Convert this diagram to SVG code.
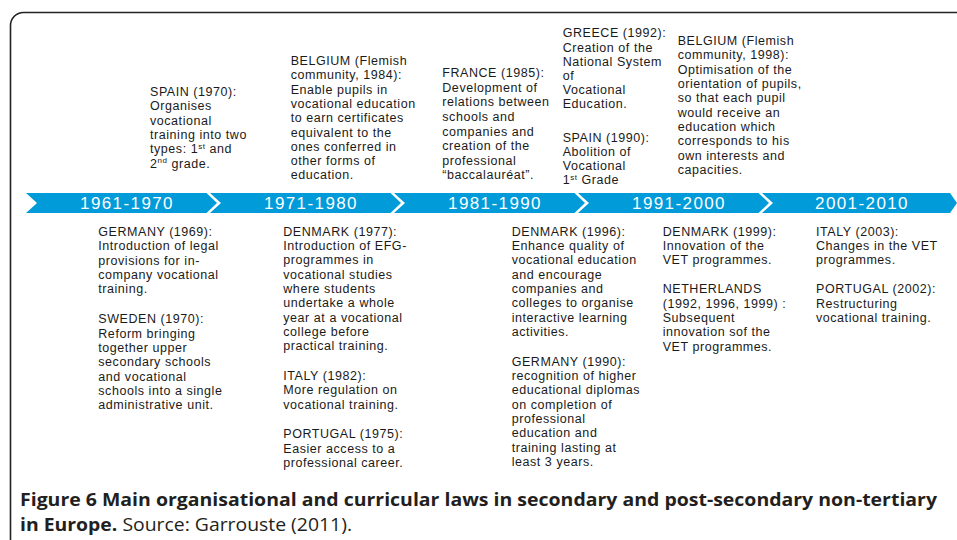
<svg xmlns="http://www.w3.org/2000/svg" width="957" height="540" viewBox="0 0 957 540">
<style>
.t{font-family:"Liberation Sans",Arial,sans-serif;font-size:12.5px;letter-spacing:0.55px;fill:#1a1a1a}
.yr{font-family:"Liberation Sans",Arial,sans-serif;font-size:17px;letter-spacing:1.4px;fill:#ffffff;text-anchor:middle}
.band{fill:#009bd8}
.cap{font-family:"Open Sans","Liberation Sans",sans-serif;font-size:18px;fill:#231f20}
.sup{font-size:8px}
</style>
<rect x="10.5" y="12.5" width="1000" height="600" rx="13" ry="13" fill="#ffffff" stroke="#222222" stroke-width="1.6"/>

<g id="timeline">
  <g id="seg-1961-1970">
    <polygon class="band" points="26,193 206.5,193 217,203 206.5,213 26,213 37,203"/>
    <text class="yr" x="127" y="208.5">1961-1970</text>
  </g>
  <g id="seg-1971-1980">
    <polygon class="band" points="210,193 390.5,193 401,203 390.5,213 210,213 221,203"/>
    <text class="yr" x="311" y="208.5">1971-1980</text>
  </g>
  <g id="seg-1981-1990">
    <polygon class="band" points="394,193 574.5,193 585,203 574.5,213 394,213 405,203"/>
    <text class="yr" x="495" y="208.5">1981-1990</text>
  </g>
  <g id="seg-1991-2000">
    <polygon class="band" points="578,193 758.5,193 769,203 758.5,213 578,213 589,203"/>
    <text class="yr" x="679" y="208.5">1991-2000</text>
  </g>
  <g id="seg-2001-2010">
    <polygon class="band" points="762,193 950,193 957,203 950,213 762,213 773,203"/>
    <text class="yr" x="862" y="208.5">2001-2010</text>
  </g>
</g>

<g id="spain-1970">
  <text class="t">
    <tspan x="150" y="96">SPAIN (1970):</tspan>
    <tspan x="150" y="110.3">Organises</tspan>
    <tspan x="150" y="124.7">vocational</tspan>
    <tspan x="150" y="139">training into two</tspan>
    <tspan x="150" y="153.3">types: 1<tspan class="sup" dy="-4.5">st</tspan><tspan dy="4.5"> and</tspan></tspan>
    <tspan x="150" y="167.7">2<tspan class="sup" dy="-4.5">nd</tspan><tspan dy="4.5"> grade.</tspan></tspan>
  </text>
</g>

<g id="belgium-1984">
  <text class="t">
    <tspan x="290.7" y="65">BELGIUM (Flemish</tspan>
    <tspan x="290.7" y="79.3">community, 1984):</tspan>
    <tspan x="290.7" y="93.6">Enable pupils in</tspan>
    <tspan x="290.7" y="107.9">vocational education</tspan>
    <tspan x="290.7" y="122.2">to earn certificates</tspan>
    <tspan x="290.7" y="136.5">equivalent to the</tspan>
    <tspan x="290.7" y="150.7">ones conferred in</tspan>
    <tspan x="290.7" y="165">other forms of</tspan>
    <tspan x="290.7" y="179.3">education.</tspan>
  </text>
</g>

<g id="france-1985">
  <text class="t">
    <tspan x="442.3" y="77.3">FRANCE (1985):</tspan>
    <tspan x="442.3" y="91.9">Development of</tspan>
    <tspan x="442.3" y="106.4">relations between</tspan>
    <tspan x="442.3" y="121">schools and</tspan>
    <tspan x="442.3" y="135.6">companies and</tspan>
    <tspan x="442.3" y="150.2">creation of the</tspan>
    <tspan x="442.3" y="164.7">professional</tspan>
    <tspan x="442.3" y="179.3">“baccalauréat”.</tspan>
  </text>
</g>

<g id="greece-spain-1990">
  <text class="t">
    <tspan x="562.7" y="37.3">GREECE (1992):</tspan>
    <tspan x="562.7" y="51.7">Creation of the</tspan>
    <tspan x="562.7" y="65.7">National System</tspan>
    <tspan x="562.7" y="80">of</tspan>
    <tspan x="562.7" y="94">Vocational</tspan>
    <tspan x="562.7" y="108.3">Education.</tspan>
    <tspan x="562.7" y="141.7">SPAIN (1990):</tspan>
    <tspan x="562.7" y="156">Abolition of</tspan>
    <tspan x="562.7" y="170">Vocational</tspan>
    <tspan x="562.7" y="184.3">1<tspan class="sup" dy="-4.5">st</tspan><tspan dy="4.5"> Grade</tspan></tspan>
  </text>
</g>

<g id="belgium-1998">
  <text class="t">
    <tspan x="677.7" y="45">BELGIUM (Flemish</tspan>
    <tspan x="677.7" y="59.3">community, 1998):</tspan>
    <tspan x="677.7" y="73.7">Optimisation of the</tspan>
    <tspan x="677.7" y="88">orientation of pupils,</tspan>
    <tspan x="677.7" y="102.3">so that each pupil</tspan>
    <tspan x="677.7" y="116.7">would receive an</tspan>
    <tspan x="677.7" y="131">education which</tspan>
    <tspan x="677.7" y="145.3">corresponds to his</tspan>
    <tspan x="677.7" y="159.7">own interests and</tspan>
    <tspan x="677.7" y="174">capacities.</tspan>
  </text>
</g>

<g id="germany-sweden">
  <text class="t">
    <tspan x="98.3" y="236">GERMANY (1969):</tspan>
    <tspan x="98.3" y="250.3">Introduction of legal</tspan>
    <tspan x="98.3" y="264.7">provisions for in-</tspan>
    <tspan x="98.3" y="279">company vocational</tspan>
    <tspan x="98.3" y="293.3">training.</tspan>
    <tspan x="98.3" y="323.3">SWEDEN (1970):</tspan>
    <tspan x="98.3" y="337.6">Reform bringing</tspan>
    <tspan x="98.3" y="352">together upper</tspan>
    <tspan x="98.3" y="366.3">secondary schools</tspan>
    <tspan x="98.3" y="380.6">and vocational</tspan>
    <tspan x="98.3" y="395">schools into a single</tspan>
    <tspan x="98.3" y="409.3">administrative unit.</tspan>
  </text>
</g>

<g id="denmark-italy-portugal">
  <text class="t">
    <tspan x="283.3" y="235.5">DENMARK (1977):</tspan>
    <tspan x="283.3" y="249.8">Introduction of EFG-</tspan>
    <tspan x="283.3" y="264.2">programmes in</tspan>
    <tspan x="283.3" y="278.5">vocational studies</tspan>
    <tspan x="283.3" y="292.8">where students</tspan>
    <tspan x="283.3" y="307.2">undertake a whole</tspan>
    <tspan x="283.3" y="321.5">year at a vocational</tspan>
    <tspan x="283.3" y="335.8">college before</tspan>
    <tspan x="283.3" y="350.2">practical training.</tspan>
    <tspan x="283.3" y="380">ITALY (1982):</tspan>
    <tspan x="283.3" y="394.3">More regulation on</tspan>
    <tspan x="283.3" y="408.7">vocational training.</tspan>
    <tspan x="283.3" y="438.3">PORTUGAL (1975):</tspan>
    <tspan x="283.3" y="452.7">Easier access to a</tspan>
    <tspan x="283.3" y="467">professional career.</tspan>
  </text>
</g>

<g id="denmark-germany-1990s">
  <text class="t">
    <tspan x="511.7" y="235.5">DENMARK (1996):</tspan>
    <tspan x="511.7" y="249.8">Enhance quality of</tspan>
    <tspan x="511.7" y="264.2">vocational education</tspan>
    <tspan x="511.7" y="278.5">and encourage</tspan>
    <tspan x="511.7" y="292.8">companies and</tspan>
    <tspan x="511.7" y="307.2">colleges to organise</tspan>
    <tspan x="511.7" y="321.5">interactive learning</tspan>
    <tspan x="511.7" y="335.8">activities.</tspan>
    <tspan x="511.7" y="365.7">GERMANY (1990):</tspan>
    <tspan x="511.7" y="380">recognition of higher</tspan>
    <tspan x="511.7" y="394.3">educational diplomas</tspan>
    <tspan x="511.7" y="408.7">on completion of</tspan>
    <tspan x="511.7" y="423">professional</tspan>
    <tspan x="511.7" y="437.3">education and</tspan>
    <tspan x="511.7" y="451.7">training lasting at</tspan>
    <tspan x="511.7" y="466">least 3 years.</tspan>
  </text>
</g>

<g id="denmark-netherlands">
  <text class="t">
    <tspan x="662.7" y="235.5">DENMARK (1999):</tspan>
    <tspan x="662.7" y="249.8">Innovation of the</tspan>
    <tspan x="662.7" y="264.2">VET programmes.</tspan>
    <tspan x="662.7" y="293.3">NETHERLANDS</tspan>
    <tspan x="662.7" y="307.7">(1992, 1996, 1999) :</tspan>
    <tspan x="662.7" y="322">Subsequent</tspan>
    <tspan x="662.7" y="336.3">innovation sof the</tspan>
    <tspan x="662.7" y="350.7">VET programmes.</tspan>
  </text>
</g>

<g id="italy-portugal-2000s">
  <text class="t">
    <tspan x="816" y="235.5">ITALY (2003):</tspan>
    <tspan x="816" y="249.8">Changes in the VET</tspan>
    <tspan x="816" y="264.2">programmes.</tspan>
    <tspan x="816" y="293.3">PORTUGAL (2002):</tspan>
    <tspan x="816" y="307.7">Restructuring</tspan>
    <tspan x="816" y="322">vocational training.</tspan>
  </text>
</g>

<g id="caption">
  <text class="cap" x="20" y="506" font-weight="bold" textLength="917" lengthAdjust="spacingAndGlyphs">Figure 6 Main organisational and curricular laws in secondary and post-secondary non-tertiary</text>
  <text class="cap" x="20" y="531" textLength="332" lengthAdjust="spacingAndGlyphs"><tspan font-weight="bold">in Europe.</tspan> Source: Garrouste (2011).</text>
</g>
</svg>
